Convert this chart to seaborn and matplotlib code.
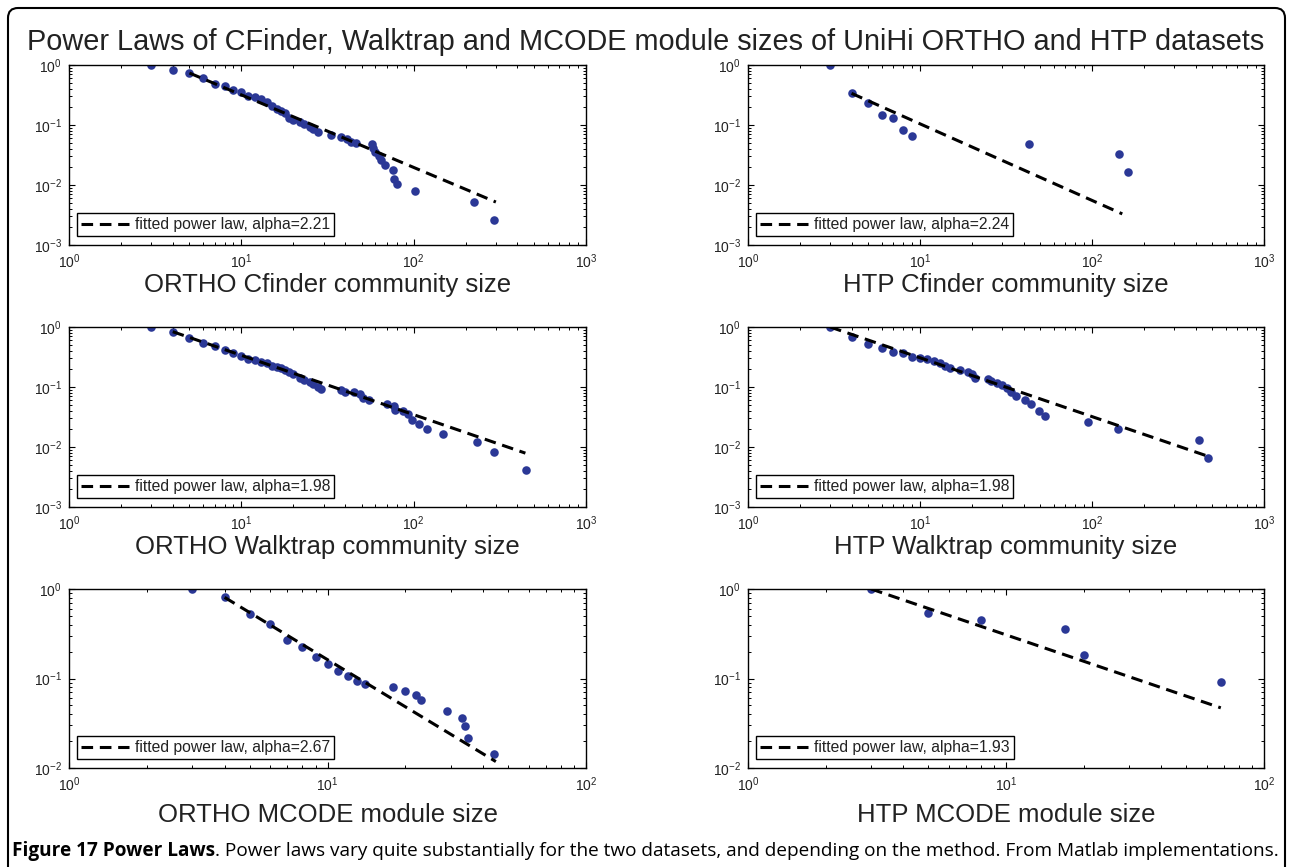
import matplotlib
matplotlib.use("Agg")
import matplotlib.pyplot as plt
import seaborn as sns
from matplotlib.patches import FancyBboxPatch
from matplotlib.transforms import IdentityTransform
from matplotlib.ticker import LogLocator, NullFormatter

# ---------------- data ----------------
tl_x = [3, 4, 5, 6, 7, 8, 9, 10, 11, 12, 13, 14, 15, 16, 17, 18, 19, 20, 22, 23, 25, 26, 28,
        33, 38, 41, 43, 46, 57, 58, 60, 63, 65, 68, 76, 77, 80, 102, 225, 292]
tl_y = [1.0, 0.826, 0.735, 0.61, 0.49, 0.44, 0.39, 0.35, 0.31, 0.29, 0.268, 0.245, 0.21, 0.183,
        0.171, 0.157, 0.129, 0.121, 0.114, 0.103, 0.094, 0.085, 0.077, 0.068, 0.062, 0.058, 0.053,
        0.05, 0.048, 0.041, 0.036, 0.030, 0.026, 0.0215, 0.0178, 0.0128, 0.0103, 0.0078, 0.0052, 0.0026]
tl_fit_x = [5, 300]
tl_fit_y = [0.735, 0.0052]

tr_x = [3, 4, 5, 6, 7, 8, 9, 43, 144, 161]
tr_y = [1.0, 0.337, 0.23, 0.147, 0.129, 0.0825, 0.0657, 0.0489, 0.0327, 0.0164]
tr_fit_x = [4, 150]
tr_fit_y = [0.337, 0.0033]

ml_x = [3, 4, 5, 6, 7, 8, 9, 10, 11, 12, 13, 14, 15, 16, 17, 18, 19, 20, 22, 23, 25, 26, 28, 29,
        38, 40, 45, 49, 51, 55, 70, 77, 78, 87, 93, 98, 108, 119, 147, 232, 292, 449]
ml_y = [1.0, 0.835, 0.647, 0.548, 0.482, 0.414, 0.373, 0.332, 0.293, 0.278, 0.264, 0.248, 0.227,
        0.218, 0.205, 0.192, 0.18, 0.163, 0.143, 0.131, 0.123, 0.112, 0.101, 0.093, 0.089, 0.084,
        0.081, 0.077, 0.065, 0.06, 0.052, 0.049, 0.0415, 0.04, 0.0355, 0.0282, 0.024, 0.02, 0.0163,
        0.0123, 0.0082, 0.0041]
ml_fit_x = [4, 445]
ml_fit_y = [0.835, 0.0079]

mr_x = [3, 4, 5, 6, 7, 8, 9, 10, 11, 12, 13, 14, 15, 17, 19, 20, 21, 25, 26, 28, 30, 32, 34, 36,
        41, 44, 49, 53, 95, 141, 420, 470]
mr_y = [1.0, 0.673, 0.515, 0.44, 0.388, 0.373, 0.32, 0.30, 0.29, 0.274, 0.254, 0.224, 0.205,
        0.192, 0.175, 0.163, 0.143, 0.136, 0.126, 0.115, 0.108, 0.097, 0.084, 0.071, 0.060, 0.052,
        0.040, 0.0331, 0.0265, 0.0197, 0.0132, 0.0066]
mr_fit_x = [3, 480]
mr_fit_y = [1.0, 0.0069]

bl_x = [3, 4, 5, 6, 7, 8, 9, 10, 11, 12, 13, 14, 18, 20, 22, 23, 29, 33, 34, 35, 44]
bl_y = [1.0, 0.806, 0.526, 0.407, 0.267, 0.223, 0.174, 0.145, 0.122, 0.107, 0.094, 0.0867,
        0.0795, 0.0717, 0.0658, 0.0578, 0.0435, 0.036, 0.0291, 0.0216, 0.0144]
bl_fit_x = [4, 44.8]
bl_fit_y = [0.806, 0.0118]

br_x = [3, 5, 8, 17, 20, 68]
br_y = [1.0, 0.545, 0.454, 0.36, 0.181, 0.0909]
br_fit_x = [3, 68]
br_fit_y = [1.0, 0.047]

alphas = ["2.21", "2.24", "1.98", "1.98", "2.67", "1.93"]
xlabels = ["ORTHO Cfinder community size", "HTP Cfinder community size",
           "ORTHO Walktrap community size", "HTP Walktrap community size",
           "ORTHO MCODE module size", "HTP MCODE module size"]
title = "Power Laws of CFinder, Walktrap and MCODE module sizes of UniHi ORTHO and HTP datasets"
caption_bold = "Figure 17 Power Laws"
caption_rest = (". Power laws vary quite substantially for the two datasets, and depending on the "
                "method. From Matlab implementations.")

# ---------------- style ----------------
sns.set_theme(style="white")
plt.rcParams.update({
    "axes.edgecolor": "black",
    "axes.linewidth": 1.0,
    "xtick.direction": "in",
    "ytick.direction": "in",
    "xtick.top": True,
    "ytick.right": True,
    "xtick.bottom": True,
    "ytick.left": True,
    "xtick.major.size": 4.5,
    "ytick.major.size": 4.5,
    "xtick.minor.size": 2.3,
    "ytick.minor.size": 2.3,
    "xtick.major.width": 0.8,
    "ytick.major.width": 0.8,
    "xtick.minor.width": 0.7,
    "ytick.minor.width": 0.7,
    "xtick.color": "black",
    "ytick.color": "black",
    "text.color": "#222222",
    "xtick.labelcolor": "#222222",
    "ytick.labelcolor": "#222222",
    "mathtext.fontset": "custom",
    "mathtext.rm": "Liberation Sans",
    "mathtext.it": "Liberation Sans:italic",
    "axes.unicode_minus": True,
})
plt.rcParams["font.family"] = ["Liberation Sans", "DejaVu Sans"]

DOT = "#2b3896"
W, H = 1292, 867
fig = plt.figure(figsize=(W / 100, H / 100), dpi=100)
fig.patch.set_facecolor("white")


def px_rect(x0, y0, x1, y1):
    return [x0 / W, 1 - y1 / H, (x1 - x0) / W, (y1 - y0) / H]


cols = [(69, 586), (748, 1264)]
rows = [(65, 245), (327, 507), (589, 768)]
xlabel_y = [285, 547, 815]
limits = [((1, 1e3), (1e-3, 1)), ((1, 1e3), (1e-3, 1)), ((1, 1e2), (1e-2, 1))]

series = [(tl_x, tl_y, tl_fit_x, tl_fit_y), (tr_x, tr_y, tr_fit_x, tr_fit_y),
          (ml_x, ml_y, ml_fit_x, ml_fit_y), (mr_x, mr_y, mr_fit_x, mr_fit_y),
          (bl_x, bl_y, bl_fit_x, bl_fit_y), (br_x, br_y, br_fit_x, br_fit_y)]

for i, (sx, sy, fx, fy) in enumerate(series):
    r, c = divmod(i, 2)
    x0, x1 = cols[c]
    y0, y1 = rows[r]
    ax = fig.add_axes(px_rect(x0, y0, x1, y1))
    ax.set_xscale("log")
    ax.set_yscale("log")
    sns.scatterplot(x=sx, y=sy, ax=ax, color=DOT, s=38, linewidth=0, zorder=2)
    sns.lineplot(x=fx, y=fy, ax=ax, color="black", linewidth=2.2,
                 linestyle=(0, (3.8, 2.2)), label=f"fitted power law, alpha={alphas[i]}",
                 zorder=3, legend=False)
    (xl, yl) = limits[r]
    ax.set_xlim(*xl)
    ax.set_ylim(*yl)
    ax.xaxis.set_major_locator(LogLocator(base=10, numticks=10))
    ax.yaxis.set_major_locator(LogLocator(base=10, numticks=10))
    ax.xaxis.set_minor_locator(LogLocator(base=10, subs=range(2, 10), numticks=50))
    ax.yaxis.set_minor_locator(LogLocator(base=10, subs=range(2, 10), numticks=50))
    ax.xaxis.set_minor_formatter(NullFormatter())
    ax.yaxis.set_minor_formatter(NullFormatter())
    ax.tick_params(axis="both", which="major", labelsize=10, pad=5)
    for s in ax.spines.values():
        s.set_visible(True)
        s.set_color("black")
    ax.set_xlabel(xlabels[i], fontsize=18.5, color="#222222")
    ax.xaxis.label.set_va("center")
    ax.xaxis.set_label_coords(0.5, -(xlabel_y[r] - y1) / (y1 - y0))
    ax.set_ylabel("")
    line = ax.get_lines()[0]
    aw, ah = x1 - x0, y1 - y0
    leg = ax.legend(handles=[line], labels=[f"fitted power law, alpha={alphas[i]}"],
                    loc="lower left", bbox_to_anchor=(8 / aw, 9 / ah), borderaxespad=0,
                    frameon=True, fancybox=False, framealpha=1, edgecolor="black",
                    fontsize=11.3, handlelength=3.05, handletextpad=0.4, borderpad=0.25)
    leg.get_frame().set_linewidth(1.0)

fig.text(0.5, 1 - 50 / H, title, ha="center", va="baseline", fontsize=20.8, color="#222222")

# caption
renderer = fig.canvas.get_renderer()
t1 = fig.text(12 / W, 1 - 856 / H, caption_bold, ha="left", va="baseline", fontsize=13.7,
              fontweight="bold", family=["Open Sans", "DejaVu Sans"], color="black")
bb = t1.get_window_extent(renderer)
fig.text(bb.x1 / W, 1 - 856 / H, caption_rest, ha="left", va="baseline", fontsize=13.7,
         family=["Open Sans", "DejaVu Sans"], color="black")

frame = FancyBboxPatch((8, -30), 1277, H - 8 + 30, boxstyle="round,pad=0,rounding_size=10",
                       transform=IdentityTransform(), fill=False, edgecolor="black", linewidth=1.5)
fig.add_artist(frame)

fig.savefig("out.png", dpi=100)
